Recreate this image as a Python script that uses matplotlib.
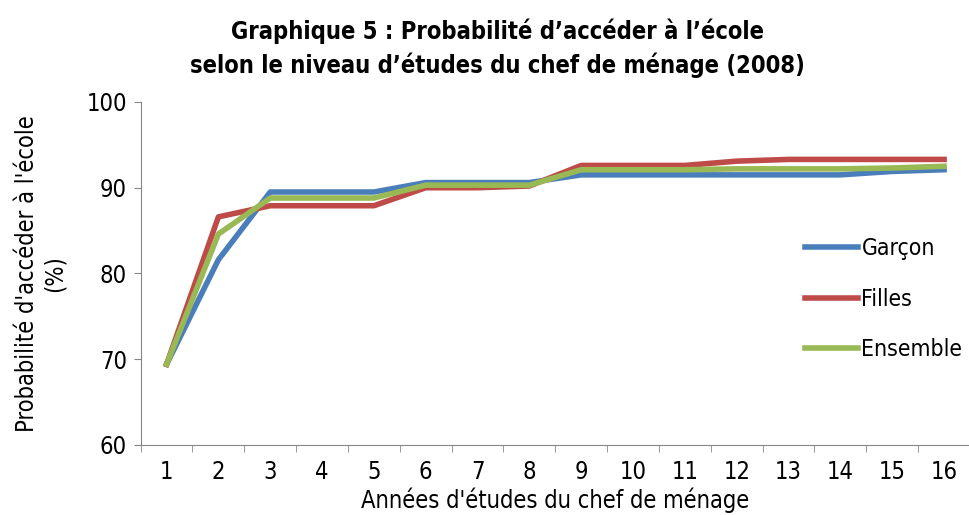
import matplotlib.pyplot as plt
import numpy as np

plt.rcParams['font.family'] = ['DejaVu Sans']
plt.rcParams['font.stretch'] = 'condensed'

annees = list(range(1, 17))
garcon = [69.4, 81.6, 89.5, 89.5, 89.5, 90.6, 90.6, 90.6, 91.5, 91.5, 91.5, 91.5, 91.5, 91.5, 91.9, 92.1]
filles = [69.4, 86.6, 87.9, 87.9, 87.9, 90.0, 90.0, 90.2, 92.6, 92.6, 92.6, 93.1, 93.3, 93.3, 93.3, 93.3]
ensemble = [69.4, 84.6, 88.8, 88.8, 88.8, 90.3, 90.3, 90.3, 92.1, 92.1, 92.1, 92.2, 92.2, 92.2, 92.3, 92.5]

fig = plt.figure(figsize=(9.7, 5.15), dpi=100)
ax = fig.add_axes([0.145, 0.136, 0.855, 0.666])

ax.plot(annees, garcon, color='#4A7EBB', lw=4, label='Garçon')
ax.plot(annees, filles, color='#BE4B48', lw=4, label='Filles')
ax.plot(annees, ensemble, color='#98B954', lw=4, label='Ensemble')

ax.set_xlim(0.5, 16.5)
ax.set_ylim(60, 100)
ax.set_yticks([60, 70, 80, 90, 100])
ax.set_xticks(annees)
ax.set_xticks(np.arange(0.5, 17, 1), minor=True)
ax.tick_params(axis='x', which='major', length=0, pad=11, labelsize=17)
ax.tick_params(axis='x', which='minor', length=5, color='#868686')
ax.tick_params(axis='y', length=5, color='#868686', labelsize=17, pad=5)

for s in ['top', 'right']:
    ax.spines[s].set_visible(False)
for s in ['left', 'bottom']:
    ax.spines[s].set_color('#868686')

ax.set_xlabel("Années d'études du chef de ménage", fontsize=17, labelpad=2)
ax.set_ylabel("Probabilité d'accéder à l'école\n(%)", fontsize=17, labelpad=14,
              linespacing=1.2)

ax.legend(loc='center left', bbox_to_anchor=(0.782, 0.425), frameon=False,
          fontsize=16.5, handlelength=2.3, labelspacing=1.2, handletextpad=0.15,
          borderpad=0.2)

fig.suptitle("Graphique 5 : Probabilité d’accéder à l’école\nselon le niveau d’études du chef de ménage (2008)",
             fontsize=17, fontweight='bold', x=0.513, y=0.965, linespacing=1.45)

fig.savefig('out.png', dpi=100)
